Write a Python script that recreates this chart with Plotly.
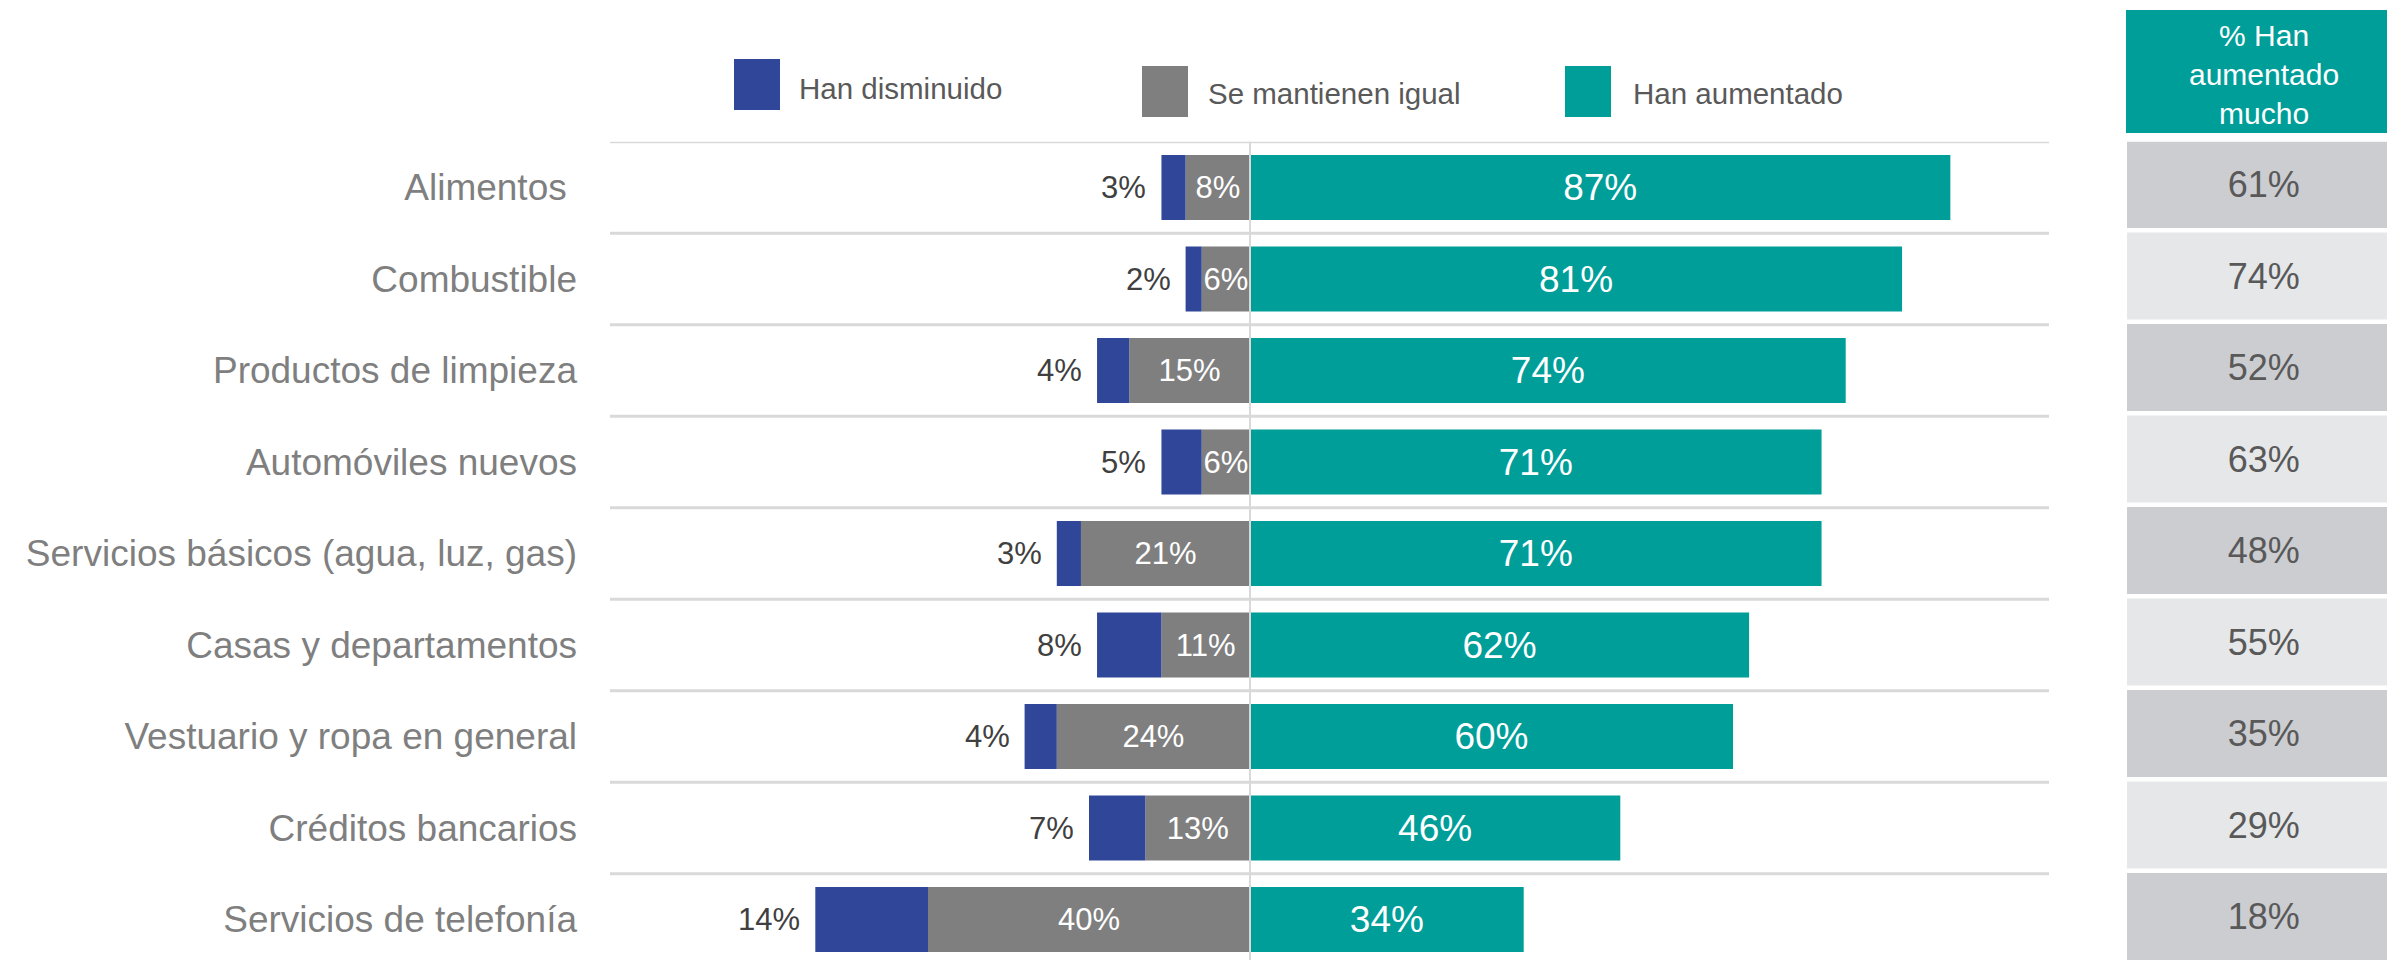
import plotly.graph_objects as go

# ---------------- data ----------------
categories = [
    "Alimentos\u00a0",
    "Combustible",
    "Productos de limpieza",
    "Automóviles nuevos",
    "Servicios básicos (agua, luz, gas)",
    "Casas y departamentos",
    "Vestuario y ropa en general",
    "Créditos bancarios",
    "Servicios de telefonía",
]
disminuido = [3, 2, 4, 5, 3, 8, 4, 7, 14]
igual = [8, 6, 15, 6, 21, 11, 24, 13, 40]
aumentado = [87, 81, 74, 71, 71, 62, 60, 46, 34]
aumentado_mucho = [61, 74, 52, 63, 48, 55, 35, 29, 18]

series_names = ["Han disminuido", "Se mantienen igual", "Han aumentado"]
table_header = "% Han<br>aumentado<br>mucho"

# ---------------- styles ----------------
W, H = 2387, 960
BLUE = "#2F4699"
GREY = "#7F7F7F"
TEAL = "#009E99"
CELL_DARK = "#CCCDD1"
CELL_LIGHT = "#E6E7E9"
GRID = "#D9D9D9"
FONT = "Liberation Sans, Arial, sans-serif"

plot_left, plot_right, plot_top = 610, 2049, 141.75
row_h = 91.5
row0_center = 187.5
px_per_pct = 8.05
zero_px = 1250
n = len(categories)

x_range = [(plot_left - zero_px) / px_per_pct, (plot_right - zero_px) / px_per_pct]
y_bottom = (H - row0_center) / row_h
y_range = [y_bottom, -0.5]

fig = go.Figure()

bar_w = 0.71
# grey (nearest to zero, negative side)
fig.add_trace(go.Bar(
    y=categories, x=[-v for v in igual], orientation="h", width=bar_w,
    marker=dict(color=GREY, line=dict(width=0)),
    text=[f"{v}%" for v in igual], textposition="inside", insidetextanchor="middle",
    constraintext="none", textangle=0,
    textfont=dict(size=31, color="white", family=FONT),
    name=series_names[1], hoverinfo="skip",
))
# blue (outer negative)
fig.add_trace(go.Bar(
    y=categories, x=[-v for v in disminuido], orientation="h", width=bar_w,
    marker=dict(color=BLUE, line=dict(width=0)),
    name=series_names[0], hoverinfo="skip",
))
# teal (positive)
fig.add_trace(go.Bar(
    y=categories, x=aumentado, orientation="h", width=bar_w,
    marker=dict(color=TEAL, line=dict(width=0)),
    text=[f"{v}%" for v in aumentado], textposition="inside", insidetextanchor="middle",
    constraintext="none", textangle=0,
    textfont=dict(size=37, color="white", family=FONT),
    name=series_names[2], hoverinfo="skip",
))

# table column as bars on a second x axis
fig.add_trace(go.Bar(
    y=categories, x=[1] * n, base=0, orientation="h", xaxis="x2", yaxis="y",
    width=0.951, offset=-0.508,
    marker=dict(color=[CELL_DARK if i % 2 == 0 else CELL_LIGHT for i in range(n)], line=dict(width=0)),
    text=[f"{v}%" for v in aumentado_mucho], textposition="inside", insidetextanchor="middle",
    constraintext="none", textangle=0,
    textfont=dict(size=36, color="#595959", family=FONT),
    hoverinfo="skip", showlegend=False,
))

shapes = []
annotations = []

# horizontal separators between rows
for k in range(n):
    shapes.append(dict(type="line", xref="x domain", x0=0, x1=1, yref="y", y0=k - 0.5, y1=k - 0.5,
                       line=dict(color=GRID, width=3), layer="below"))
# zero line
shapes.append(dict(type="line", xref="x", x0=0, x1=0, yref="y domain", y0=0, y1=1,
                   line=dict(color=GRID, width=2), layer="above"))

# outside labels for "Han disminuido"
for c, d, g in zip(categories, disminuido, igual):
    annotations.append(dict(x=-(d + g), y=c, xref="x", yref="y", text=f"{d}%", showarrow=False,
                            xanchor="right", yanchor="middle", xshift=-13,
                            font=dict(size=31, color="#404040", family=FONT)))

# legend (custom)
legend_items = [
    (series_names[0], BLUE, 734, 780, 59, 110, 797, 88),
    (series_names[1], GREY, 1142, 1188, 66, 117, 1206, 94),
    (series_names[2], TEAL, 1565, 1611, 66, 117, 1631, 94),
]
for name, col, x0, x1, y0, y1, tx, ty in legend_items:
    shapes.append(dict(type="rect", xref="paper", yref="paper", x0=x0 / W, x1=x1 / W,
                       y0=1 - y1 / H, y1=1 - y0 / H, fillcolor=col, line=dict(width=0)))
    annotations.append(dict(x=tx / W, y=1 - ty / H, xref="paper", yref="paper", text=name,
                            showarrow=False, xanchor="left", yanchor="middle",
                            font=dict(size=29.5, color="#595959", family=FONT)))

# table header
shapes.append(dict(type="rect", xref="paper", yref="paper", x0=2126 / W, x1=1,
                   y0=1 - 133 / H, y1=1 - 10 / H, fillcolor=TEAL, line=dict(width=0)))
annotations.append(dict(x=2264 / W, y=1 - 74 / H, xref="paper", yref="paper", text=table_header,
                        showarrow=False, xanchor="center", yanchor="middle", align="center",
                        font=dict(size=30, color="white", family=FONT)))

fig.update_layout(
    width=W, height=H,
    margin=dict(l=0, r=0, t=0, b=0),
    paper_bgcolor="white", plot_bgcolor="white",
    barmode="relative", showlegend=False,
    font=dict(family=FONT),
    xaxis=dict(domain=[plot_left / W, plot_right / W], range=x_range, visible=False,
               showgrid=False, zeroline=False, fixedrange=True),
    xaxis2=dict(domain=[2127 / W, 1], range=[0, 0.95], anchor="y", visible=False,
                showgrid=False, zeroline=False),
    yaxis=dict(domain=[0, 1 - plot_top / H], range=y_range, type="category",
               categoryorder="array", categoryarray=categories,
               showgrid=False, zeroline=False, showline=False, ticks="",
               ticklabelstandoff=32,
               tickfont=dict(size=37, color="#7F7F7F", family=FONT)),
    shapes=shapes, annotations=annotations,
)

fig.write_html(
    "out.html",
    config={"displayModeBar": False, "staticPlot": True},
    post_script="document.body.style.margin='0';document.body.style.padding='0';document.body.style.overflow='hidden';",
)
